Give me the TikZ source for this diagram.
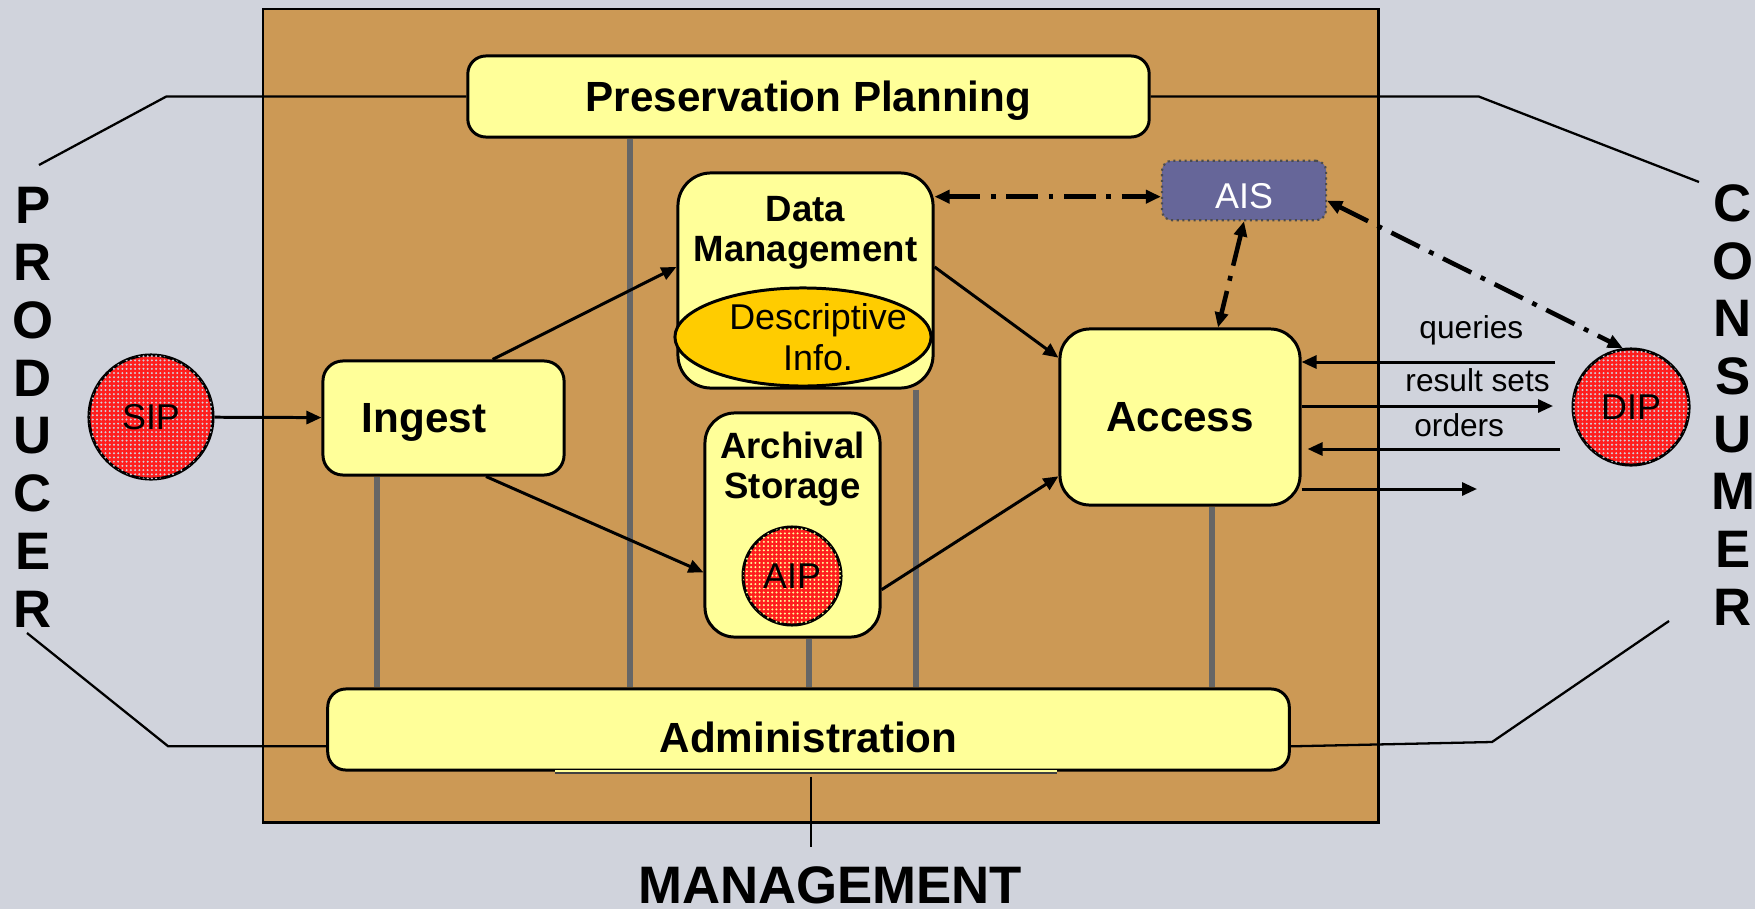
\documentclass[tikz,border=0pt]{standalone}
\usepackage{fontspec}
\setsansfont{Liberation Sans}
\usetikzlibrary{arrows.meta,shapes.geometric,patterns}
\definecolor{bggray}{RGB}{208,211,220}
\definecolor{brownbg}{RGB}{204,153,85}
\definecolor{paleyellow}{RGB}{255,255,153}
\definecolor{infoorange}{RGB}{255,204,0}
\definecolor{aisblue}{RGB}{102,102,153}
\definecolor{pkgred}{RGB}{255,30,30}
\definecolor{linegray}{RGB}{102,102,102}
\pgfdeclarepatternformonly{finedots}{\pgfqpoint{-0.4pt}{-0.4pt}}{\pgfqpoint{0.4pt}{0.4pt}}{\pgfqpoint{1.2pt}{1.2pt}}{\pgfpathcircle{\pgfqpoint{0pt}{0pt}}{0.32pt}\pgfusepath{fill}}

\begin{document}
\begin{tikzpicture}[x=0.01cm, y=-0.01cm, >={Triangle[length=0.15cm, width=0.13cm]},
	func box/.style={draw, fill=paleyellow, line width=0.85pt, inner sep=0pt},
	big text/.style={font=\sffamily\bfseries\fontsize{12}{14}\selectfont, text depth=0pt},
	mid text/.style={font=\sffamily\bfseries\fontsize{10.4}{11.4}\selectfont, align=center},
	plain text/.style={font=\sffamily\fontsize{10.2}{11.7}\selectfont, align=center},
	package/.style={circle, draw, line width=0.85pt, fill=pkgred, postaction={pattern=finedots}, inner sep=0pt, plain text},
	side text/.style={font=\sffamily\bfseries\fontsize{15}{16.4}\selectfont, align=center, inner sep=0pt},
	flow/.style={->, line width=0.85pt},
	ais link/.style={<->, line width=1.3pt, dash pattern=on 9pt off 3pt on 1.4pt off 3pt},
	gray line/.style={line width=1.6pt, linegray},
	ref line/.style={line width=0.65pt}]
	\useasboundingbox (0,0) rectangle (1755,909);
	\fill[bggray] (0,0) rectangle (1755,909);
	\draw[fill=brownbg, line width=0.85pt] (263,9) rectangle (1378,822);
	\node[func box, big text, minimum width=6.81cm, minimum height=0.81cm, rounded corners=0.18cm] (PP) at (808.5,96.5) {Preservation Planning};
	\node[func box, minimum width=2.55cm, minimum height=2.15cm, rounded corners=0.33cm, label={[mid text, yshift=0.48cm]center:Data\\Management}] (DM) at (805.5,280.5) {};
	\node[ellipse, draw, fill=infoorange, line width=0.85pt, inner sep=0pt, minimum width=2.56cm, minimum height=0.98cm, label={[plain text, xshift=0.15cm]center:Descriptive\\Info.}] (DI) at (803,337) {};
	\node[draw=black!70, densely dotted, line width=0.6pt, fill=aisblue, rounded corners=0.1cm, minimum width=1.64cm, minimum height=0.59cm, plain text, text=white, text height=0.36cm, text depth=0pt] (AIS) at (1244,190.5) {AIS};
	\node[package, pattern color=bggray, minimum size=1.24cm] (SIP) at (151,417) {SIP};
	\node[func box, minimum width=2.41cm, minimum height=1.14cm, rounded corners=0.2cm, label={[big text, xshift=-0.195cm]center:Ingest}] (ING) at (443.5,418) {};
	\node[func box, minimum width=1.75cm, minimum height=2.24cm, rounded corners=0.3cm, label={[mid text, yshift=0.56cm]center:Archival\\Storage}] (AS) at (792.5,525) {};
	\node[package, pattern color=paleyellow, minimum size=0.98cm] (AIP) at (792,576) {AIP};
	\node[func box, big text, minimum width=2.4cm, minimum height=1.76cm, rounded corners=0.3cm] (ACC) at (1180,417) {Access};
	\node[package, pattern color=bggray, minimum size=1.16cm] (DIP) at (1631,407) {DIP};
	\node[func box, minimum width=9.61cm, minimum height=0.81cm, rounded corners=0.18cm, label={[big text, yshift=-0.075cm]center:Administration}] (ADM) at (808.5,729.5) {};
	\node[side text] (PROD) at (33,407) {P\\R\\O\\D\\U\\C\\E\\R};
	\node[side text] (CONS) at (1733,405) {C\\O\\N\\S\\U\\M\\E\\R};
	\node[inner sep=0pt, font=\sffamily\bfseries\fontsize{15}{18}\selectfont] (MGMT) at (830,885) {MANAGEMENT};
	\draw[paleyellow, line width=1pt] (ADM.south west) ++(229,0) -- ++(502,0);
	\draw[black!75, line width=0.35pt] (ADM.south west) ++(229,1.5) -- ++(502,0);
	\foreach \n/\dx in {ING/-66.5, PP/-178.5, AS/16.5, DM/110.5, ACC/32}
		\draw[gray line] (\n.south) ++(\dx,0) coordinate (g) -- (g |- ADM.north);
	\path[flow]
		(SIP) edge (ING)
		(ING.50) edge (DM.174)
		(ING.-54) edge (AS.208)
		(DM.6) edge (ACC.154)
		(AS.-36) edge (ACC.206);
	\path[ais link]
		(DM.33) edge (DM.33 -| AIS.west)
		(AIS.south) edge (ACC.67)
		(AIS.-7) edge (DIP.98);
	\coordinate (qr) at (1555,362);
	\coordinate (rs) at (1553,406);
	\coordinate (od) at (1560,449);
	\coordinate (ot) at (1477,489);
	\path[flow, every node/.style={font=\sffamily\fontsize{9}{11}\selectfont, inner sep=0pt, text depth=0pt}]
		(qr) edge node[above=0.22cm, pos=0.33] {queries} (qr -| ACC.east)
		(ACC.east |- rs) edge node[above=0.13cm, pos=0.7] {result sets} (rs)
		(od) edge[shorten >=0.06cm] node[above=0.11cm, pos=0.39] {orders} (od -| ACC.east)
		(ACC.east |- ot) edge (ot);
	\coordinate (pu) at (39,165);
	\coordinate (pl) at (27,633);
	\coordinate (cu) at (1699,182);
	\coordinate (cl) at (1669,621);
	\draw[ref line] (PP.west) -- ++(-300,0) -- (pu);
	\draw[ref line] (PP.east) -- ++(328,0) -- (cu);
	\draw[ref line] (ADM.182) -- ++(-158,0) -- (pl);
	\draw[ref line] (ADM.-2) -- (1492,742) -- (cl);
	\draw[ref line, shorten >=0.19cm] (ADM.south) ++(2.5,5) coordinate (m) -- (m |- MGMT.north);
\end{tikzpicture}
\end{document}
